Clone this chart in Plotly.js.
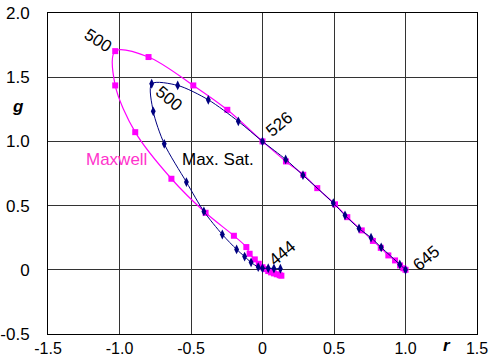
<!DOCTYPE html>
<html>
<head>
<meta charset="utf-8">
<script src="https://cdn.plot.ly/plotly-3.0.1.min.js"></script>
<style>html,body{margin:0;padding:0;background:#fff;}#chart{width:492px;height:358px;}</style>
</head>
<body>
<div id="chart"></div>
<script>
// Maxwell spectral locus (r, g), from 645 nm through 526 and 500 to 444 nm
const maxwellR = [1.0, 0.985, 0.962, 0.927, 0.880, 0.827, 0.772, 0.694, 0.593, 0.507, 0.383, 0.285, 0.164, 0.0,
  -0.246, -0.484, -0.797, -1.030, -1.030, -0.890, -0.637, -0.398, -0.200, -0.113, -0.090, -0.054, -0.026,
  0.0, 0.02, 0.04, 0.06, 0.08, 0.10, 0.12, 0.132];
const maxwellG = [0.0, 0.012, 0.034, 0.073, 0.112, 0.171, 0.225, 0.307, 0.410, 0.510, 0.636, 0.740, 0.844, 1.0,
  1.246, 1.436, 1.657, 1.703, 1.436, 1.072, 0.709, 0.444, 0.265, 0.177, 0.125, 0.081, 0.047,
  0.020, 0.005, -0.010, -0.020, -0.028, -0.035, -0.042, -0.046];

// Maximum saturation locus (r, g)
const maxSatR = [1.0, 0.960, 0.830, 0.759, 0.675, 0.577, 0.495, 0.283, 0.162, 0.0,
  -0.169, -0.379, -0.593, -0.775, -0.764, -0.687, -0.532, -0.410, -0.281, -0.181, -0.125, -0.080, -0.030,
  0.0, 0.04, 0.08, 0.125];
const maxSatG = [0.0, 0.042, 0.175, 0.250, 0.322, 0.424, 0.520, 0.737, 0.860, 1.0,
  1.156, 1.324, 1.436, 1.449, 1.234, 0.981, 0.683, 0.455, 0.275, 0.159, 0.103, 0.058, 0.021,
  0.012, 0.012, 0.010, 0.008];

const xTicks = [-1.5, -1.0, -0.5, 0, 0.5, 1.0, 1.5];
const xTickText = ['-1.5', '-1.0', '-0.5', '0', '0.5', '1.0', '1.5'];
const yTicks = [-0.5, 0, 0.5, 1.0, 1.5, 2.0];
const yTickText = ['-0.5', '0', '0.5', '1.0', '1.5', '2.0'];

// wavelength labels: text, r, g, angle
const wlText = ['500', '500', '526', '444', '645'];
const wlR = [-1.15, -0.654, 0.115, 0.136, 1.143];
const wlG = [1.789, 1.337, 1.135, 0.130, 0.091];
const wlAngle = [33, 40, -40, -40, -40];

const FONT = 'Liberation Sans, Arial, sans-serif';

const traces = [
  {
    x: maxwellR, y: maxwellG, type: 'scatter', mode: 'lines+markers', name: 'Maxwell',
    line: {color: '#FF00FF', width: 1.2, shape: 'spline', smoothing: 0.9},
    marker: {symbol: 'square', size: 6, color: '#FF00FF'}
  },
  {
    x: maxSatR, y: maxSatG, type: 'scatter', mode: 'lines+markers', name: 'Max. Sat.',
    line: {color: '#000080', width: 1, shape: 'spline', smoothing: 0.8},
    marker: {symbol: 'diamond-tall', size: 7, color: '#000080'}
  }
];

const annotations = wlText.map((t, i) => ({
  x: wlR[i], y: wlG[i], xref: 'x', yref: 'y', text: t, showarrow: false,
  xanchor: 'center', yanchor: 'middle',
  textangle: wlAngle[i], font: {family: FONT, size: 17, color: '#000'}
}));
annotations.push({x: -1.024, y: 0.862, xref: 'x', yref: 'y', text: 'Maxwell', showarrow: false,
  xanchor: 'center', yanchor: 'middle', font: {family: FONT, size: 17, color: '#FF33CC'}});
annotations.push({x: -0.311, y: 0.862, xref: 'x', yref: 'y', text: 'Max. Sat.', showarrow: false,
  xanchor: 'center', yanchor: 'middle', font: {family: FONT, size: 17, color: '#000'}});
annotations.push({x: -0.070, y: 0.710, xref: 'paper', yref: 'paper', text: '<b><i>g</i></b>', showarrow: false,
  xanchor: 'center', yanchor: 'middle', font: {family: FONT, size: 17, color: '#000'}});
annotations.push({x: 0.930, y: -0.069, xref: 'paper', yref: 'paper', text: '<b><i>r</i></b>', showarrow: false,
  xanchor: 'center', yanchor: 'bottom', borderpad: 0, font: {family: FONT, size: 17, color: '#000'}});

const layout = {
  width: 492, height: 358,
  margin: {l: 48, r: 15, t: 13, b: 24, pad: 0},
  paper_bgcolor: '#fff', plot_bgcolor: '#fff',
  showlegend: false,
  font: {family: FONT, size: 17, color: '#000'},
  xaxis: {
    range: [-1.5, 1.5], tickvals: xTicks, ticktext: xTickText,
    showgrid: true, gridcolor: '#333', gridwidth: 1, zeroline: false,
    showline: true, linecolor: '#000', linewidth: 1, mirror: true,
    ticks: '', ticklabelstandoff: 0, automargin: false,
    tickfont: {family: FONT, size: 16, color: '#000'}
  },
  yaxis: {
    range: [-0.5, 2.0], tickvals: yTicks, ticktext: yTickText,
    showgrid: true, gridcolor: '#333', gridwidth: 1, zeroline: false,
    showline: true, linecolor: '#000', linewidth: 1, mirror: true,
    ticks: '', ticklabelstandoff: 14, automargin: false,
    tickfont: {family: FONT, size: 17, color: '#000'}
  },
  annotations: annotations
};

Plotly.newPlot('chart', traces, layout, {staticPlot: true, displayModeBar: false});
</script>
</body>
</html>
